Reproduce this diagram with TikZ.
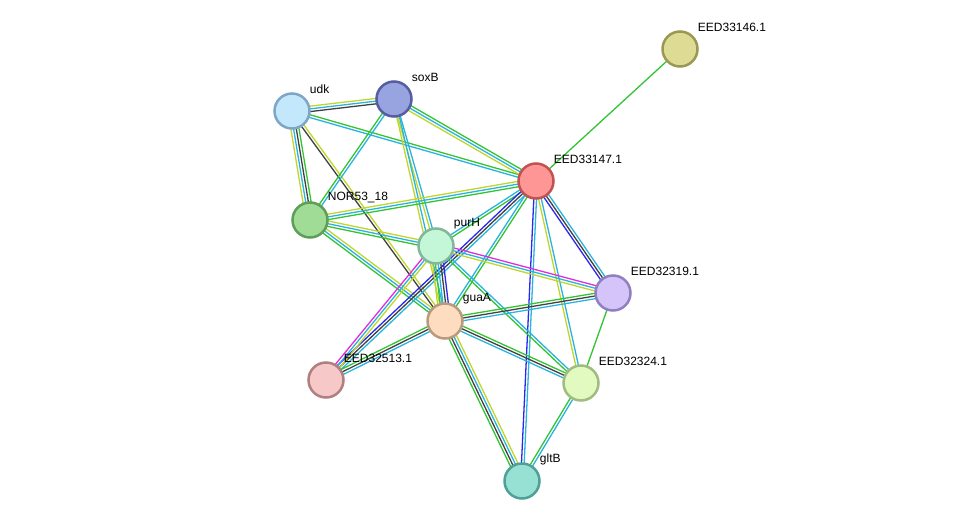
\documentclass[tikz,border=0pt]{standalone}
\usepackage{fontspec}
\setmainfont{Liberation Sans}
\usetikzlibrary{calc}
\usetikzlibrary{backgrounds}
\definecolor{evgreen}{RGB}{50,196,50}
\definecolor{evcyan}{RGB}{40,180,222}
\definecolor{evyellow}{RGB}{192,214,44}
\definecolor{evblack}{RGB}{64,64,64}
\definecolor{evblue}{RGB}{40,40,238}
\definecolor{evmagenta}{RGB}{222,44,222}
\definecolor{udkfill}{RGB}{196,232,251}
\definecolor{udkdraw}{RGB}{126,166,198}
\definecolor{soxfill}{RGB}{152,164,224}
\definecolor{soxdraw}{RGB}{84,94,160}
\definecolor{khakifill}{RGB}{222,220,148}
\definecolor{khakidraw}{RGB}{154,152,82}
\definecolor{redfill}{RGB}{255,150,150}
\definecolor{reddraw}{RGB}{192,82,82}
\definecolor{norfill}{RGB}{160,220,150}
\definecolor{nordraw}{RGB}{94,158,88}
\definecolor{purfill}{RGB}{196,247,216}
\definecolor{purdraw}{RGB}{128,184,152}
\definecolor{lavfill}{RGB}{212,196,250}
\definecolor{lavdraw}{RGB}{144,128,192}
\definecolor{guafill}{RGB}{253,220,192}
\definecolor{guadraw}{RGB}{186,154,124}
\definecolor{pinkfill}{RGB}{247,200,200}
\definecolor{pinkdraw}{RGB}{176,128,128}
\definecolor{limefill}{RGB}{226,249,192}
\definecolor{limedraw}{RGB}{160,188,128}
\definecolor{tealfill}{RGB}{150,224,212}
\definecolor{tealdraw}{RGB}{80,160,152}

\tikzset{
    protein/.style={circle, line width=2.5pt, minimum size=35pt, inner sep=0pt},
    evline/.style={line width=1.3pt},
    plabel/.style={anchor=west, font=\fontsize{12}{14}\selectfont, inner sep=1pt, xshift=-2pt, yshift=22pt}
}

% parallel lines between two proteins, one per evidence colour
\newcommand{\evlink}[3]{%
    \xdef\nlines{0}%
    \foreach \c in {#3} {\pgfmathtruncatemacro\tmp{\nlines+1}\xdef\nlines{\tmp}}%
    \foreach \c [count=\i] in {#3} {%
        \pgfmathsetmacro\off{(\i-(\nlines+1)/2)*2.7}%
        \draw[\c, evline] ($(#1)!\off pt!90:(#2)$) -- ($(#2)!\off pt!-90:(#1)$);
    }%
}

\begin{document}
\begin{tikzpicture}[x=1pt, y=-1pt]
        \useasboundingbox (0,0) rectangle (976,527);

        % Proteins
        \node[protein, fill=udkfill, draw=udkdraw, label={[plabel]0:udk}] (udk) at (292,111) {};
        \node[protein, fill=soxfill, draw=soxdraw, label={[plabel]0:soxB}] (soxB) at (394,99) {};
        \node[protein, fill=khakifill, draw=khakidraw, label={[plabel]0:EED33146.1}] (e33146) at (680,49) {};
        \node[protein, fill=redfill, draw=reddraw, label={[plabel]0:EED33147.1}] (e33147) at (536,181) {};
        \node[protein, fill=norfill, draw=nordraw, label={[plabel]0:NOR53\_18}] (nor) at (310,220) {};
        \node[protein, fill=purfill, draw=purdraw, label={[plabel]0:purH}] (purH) at (436,246) {};
        \node[protein, fill=lavfill, draw=lavdraw, label={[plabel]0:EED32319.1}] (e32319) at (613,293) {};
        \node[protein, fill=guafill, draw=guadraw, label={[plabel]0:guaA}] (guaA) at (445,321) {};
        \node[protein, fill=pinkfill, draw=pinkdraw, label={[plabel]0:EED32513.1}] (e32513) at (326,380) {};
        \node[protein, fill=limefill, draw=limedraw, label={[plabel]0:EED32324.1}] (e32324) at (581,383) {};
        \node[protein, fill=tealfill, draw=tealdraw, label={[plabel]0:gltB}] (gltB) at (522,481) {};

        % Evidence lines
        \begin{scope}[on background layer]
            \evlink{udk}{soxB}{evblack,evcyan,evyellow}
            \evlink{udk}{e33147}{evcyan,evgreen}
            \evlink{udk}{nor}{evyellow,evcyan,evblack,evgreen}
            \evlink{udk}{guaA}{evblack,evyellow}
            \evlink{soxB}{nor}{evgreen,evcyan}
            \evlink{soxB}{purH}{evyellow,evcyan}
            \evlink{soxB}{guaA}{evyellow,evcyan}
            \evlink{soxB}{e33147}{evyellow,evcyan,evgreen}
            \evlink{nor}{e33147}{evgreen,evcyan,evyellow}
            \evlink{nor}{purH}{evgreen,evcyan,evyellow}
            \evlink{nor}{guaA}{evgreen,evcyan,evyellow}
            \evlink{e33147}{e33146}{evgreen}
            \evlink{e33147}{purH}{evcyan,evgreen}
            \evlink{e33147}{guaA}{evcyan,evgreen}
            \evlink{e33147}{e32513}{evblue,evblack,evcyan}
            \evlink{e33147}{e32319}{evblue,evblack,evcyan}
            \evlink{e33147}{e32324}{evyellow,evcyan}
            \evlink{e33147}{gltB}{evblue,evcyan}
            \evlink{purH}{guaA}{evyellow,evgreen,evcyan,evblack,evblue}
            \evlink{purH}{e32319}{evyellow,evcyan,evmagenta}
            \evlink{purH}{e32513}{evmagenta,evcyan,evyellow}
            \evlink{purH}{e32324}{evgreen,evcyan}
            \evlink{guaA}{e32319}{evcyan,evblack,evgreen}
            \evlink{guaA}{e32324}{evcyan,evblack,evgreen}
            \evlink{guaA}{gltB}{evgreen,evblack,evcyan,evyellow}
            \evlink{guaA}{e32513}{evgreen,evblack,evcyan}
            \evlink{e32319}{e32324}{evgreen}
            \evlink{e32324}{gltB}{evgreen,evcyan}
        \end{scope}

    \end{tikzpicture}
\end{document}
